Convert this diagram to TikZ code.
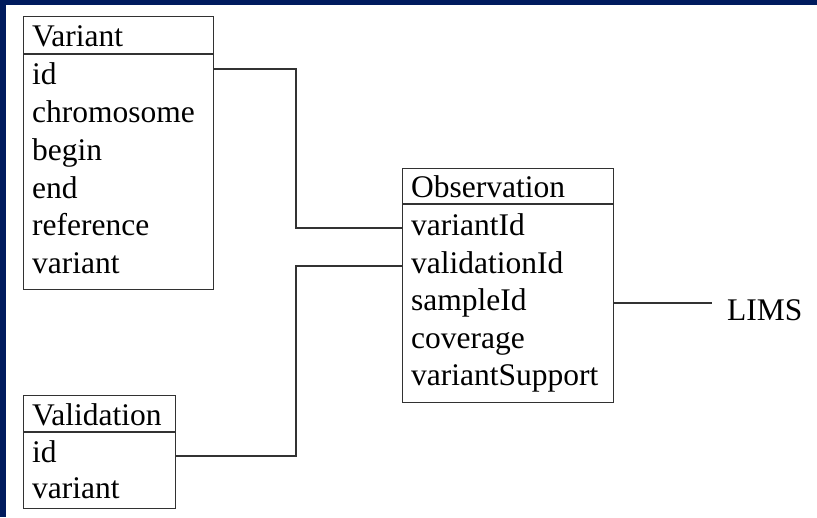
\documentclass[tikz,border=0pt]{standalone}
\usepackage{fontspec}
\setmainfont{Liberation Serif}
\definecolor{navy}{RGB}{0,27,94}
\definecolor{ln}{RGB}{50,50,50}
\begin{document}
\begin{tikzpicture}[x=1pt,y=-1pt,
  box/.style={draw=ln, line width=1.1pt, inner sep=0pt, anchor=north west},
  txt/.style={anchor=base west, inner sep=0pt, font=\fontsize{31.5}{37.8}\selectfont},
  wire/.style={draw=ln, line width=1.1pt}]
\useasboundingbox (0,0) rectangle (817,517);
\fill[white] (0,0) rectangle (817,517);
\fill[navy] (0,0) rectangle (817,5);
\fill[navy] (0,0) rectangle (6,517);
% Variant
\node[box, minimum width=190pt, minimum height=273pt] (V) at (23,16) {};
\draw[wire] (V.west |- 0,54) -- (V.east |- 0,54);
\node[txt] (vh) at (32,46) {Variant};
\node[txt] (v1) at (32,84) {id};
\node[txt] (v2) at (32,122) {chromosome};
\node[txt] (v3) at (32,160) {begin};
\node[txt] (v4) at (32,198) {end};
\node[txt] (v5) at (32,235) {reference};
\node[txt] (v6) at (32,273) {variant};
% Observation
\node[box, minimum width=211pt, minimum height=234pt] (O) at (402,168) {};
\draw[wire] (O.west |- 0,204) -- (O.east |- 0,204);
\node[txt] (oh) at (411,197) {Observation};
\node[txt] (o1) at (411,235) {variantId};
\node[txt] (o2) at (411,273) {validationId};
\node[txt] (o3) at (411,310) {sampleId};
\node[txt] (o4) at (411,348) {coverage};
\node[txt] (o5) at (411,385) {variantSupport};
% Validation
\node[box, minimum width=152pt, minimum height=113pt] (A) at (23,395) {};
\draw[wire] (A.west |- 0,432) -- (A.east |- 0,432);
\node[txt] (ah) at (32,425) {Validation};
\node[txt] (a1) at (32,462) {id};
\node[txt] (a2) at (32,498) {variant};
% LIMS
\node[txt] (L) at (727,320) {LIMS};
\coordinate (Lend) at (712,303);
% connectors
\draw[wire] (V.east |- 0,69) -- (296,69) |- (O.west |- 0,228);
\draw[wire] (O.west |- 0,266) -- (296,266) |- (A.east |- 0,456);
\draw[wire] (O.east |- Lend) -- (Lend);
\end{tikzpicture}
\end{document}
